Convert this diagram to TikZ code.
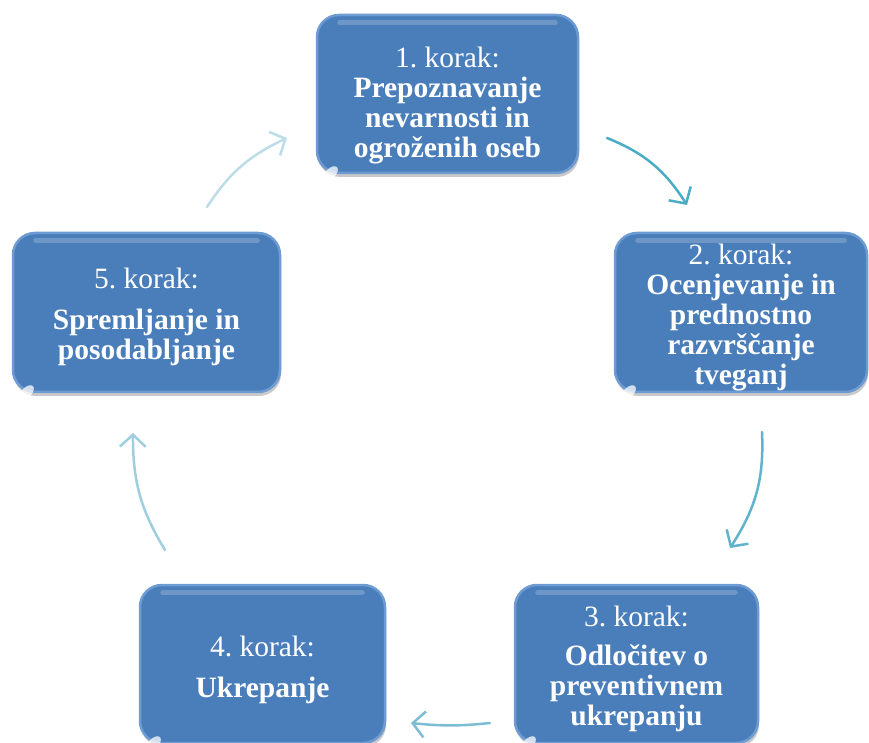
\documentclass[tikz,border=0pt]{standalone}
\usepackage{fontspec}
\setmainfont{Liberation Serif}
\usetikzlibrary{arrows.meta,calc,shadows,bending}
\frenchspacing
\definecolor{boxblue}{HTML}{4A7EBB}
\definecolor{boxedge}{HTML}{6E9BD2}
\definecolor{arA}{HTML}{4BACC6}
\definecolor{arB}{HTML}{60B3CB}
\definecolor{arC}{HTML}{7CBDD3}
\definecolor{arD}{HTML}{9FCEDF}
\definecolor{arE}{HTML}{BCDDE8}
\tikzset{
  stepbox/.style={rectangle, rounded corners=22pt, fill=boxblue, draw=boxedge,
    line width=2.5pt, text=white, align=center, inner sep=0pt,
    font={\fontsize{29.5}{30}\selectfont},
    drop shadow={shadow xshift=1pt, shadow yshift=-4pt, opacity=0.3, fill=black!70}},
  gloss/.style={white, opacity=0.2, line width=5pt, line cap=round},
  spot/.style={white, opacity=0.75},
  cyc/.style={line width=2.5pt, line cap=round,
    -{Straight Barb[length=12pt,width=26pt,flex]}}
}
\newcommand{\topgap}[1]{\rule{0pt}{#1}}
\newcommand{\boxdeco}[1]{%
  \draw[gloss] ($(#1.north west)+(24,-9)$) -- ($(#1.north east)+(-24,-9)$);
  \fill[spot,rotate around={-45:($(#1.south west)+(10,11)$)}]
    ($(#1.south west)+(10,11)$) ellipse (5 and 9);
}
\begin{document}
\begin{tikzpicture}[x=1pt,y=1pt]
\useasboundingbox (0,0) rectangle (869,742);

\node[stepbox, minimum width=261pt, minimum height=158pt] (b1) at (447.5,648)
  {\topgap{44pt}1. korak:\\ \textbf{Prepoznavanje}\\ \textbf{nevarnosti in}\\ \textbf{ogroženih oseb}};
\boxdeco{b1}
\node[stepbox, minimum width=252pt, minimum height=159pt] (b2) at (741,429.5)
  {\topgap{30pt}2. korak:\\ \textbf{Ocenjevanje in}\\ \textbf{prednostno}\\ \textbf{razvrščanje}\\ \textbf{tveganj}};
\boxdeco{b2}
\node[stepbox, minimum width=243pt, minimum height=158pt] (b3) at (636.5,78)
  {\topgap{30pt}3. korak:\\[9pt] \textbf{Odločitev o}\\ \textbf{preventivnem}\\ \textbf{ukrepanju}};
\boxdeco{b3}
\node[stepbox, minimum width=245pt, minimum height=158pt] (b4) at (262.5,78)
  {\topgap{32pt}4. korak:\\[11pt] \textbf{Ukrepanje}};
\boxdeco{b4}
\node[stepbox, minimum width=267pt, minimum height=159pt] (b5) at (146.5,429.5)
  {\topgap{30pt}5. korak:\\[11pt] \textbf{Spremljanje in}\\ \textbf{posodabljanje}};
\boxdeco{b5}

\coordinate (a1s) at (607,604);
\coordinate (a1e) at (687,537);
\coordinate (a2s) at (762,310);
\coordinate (a2e) at (730,194);
\coordinate (a3s) at (490,19);
\coordinate (a3e) at (411,19);
\coordinate (a4s) at (165,192);
\coordinate (a4e) at (133,309);
\coordinate (a5s) at (207,535);
\coordinate (a5e) at (287,604);

\draw[cyc, arA] (a1s) to[bend left=18] (a1e);
\draw[cyc, arB] (a2s) to[bend left=18] (a2e);
\draw[cyc, arC] (a3s) to[bend left=6] (a3e);
\draw[cyc, arD] (a4s) to[bend left=16] (a4e);
\draw[cyc, arE] (a5s) to[bend left=16] (a5e);
\end{tikzpicture}
\end{document}
